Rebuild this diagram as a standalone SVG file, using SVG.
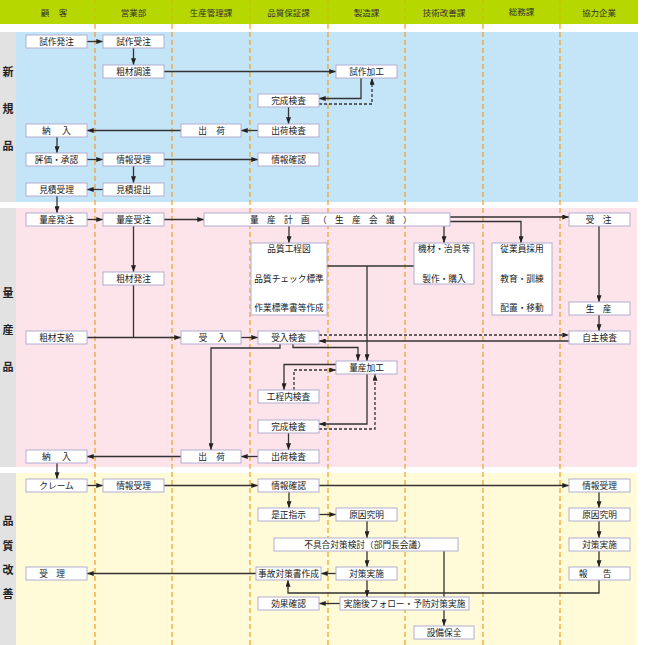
<svg xmlns="http://www.w3.org/2000/svg" width="650" height="645" viewBox="0 0 650 645">
<style>
.bx{fill:#fff;stroke:#b3aed0;stroke-width:1}
.t{font-family:"Noto Sans CJK JP","Noto Sans",sans-serif;font-size:8.7px;fill:#1a1a1a;text-anchor:middle}
.h{font-family:"Noto Sans CJK JP","Noto Sans",sans-serif;font-size:8.5px;fill:#333;text-anchor:middle}
.sl{font-family:"Noto Sans CJK JP","Noto Sans",sans-serif;font-size:11px;font-weight:bold;fill:#222;text-anchor:middle}
.c{fill:none;stroke:#333;stroke-width:1.3}
.a{marker-end:url(#ah)}
.d{stroke-dasharray:3,2}
.lane{stroke:#f2a020;stroke-width:1.2;stroke-dasharray:5,3}
.laneh{stroke:#e0a020;stroke-width:1.2;stroke-dasharray:5,3;opacity:0.35}
</style>
<defs>
<marker id="ah" viewBox="0 0 8 6" refX="8" refY="3" markerWidth="7" markerHeight="5" markerUnits="userSpaceOnUse" orient="auto"><path d="M0,0 L8,3 L0,6 z" fill="#222"/></marker>
</defs>
<g id="background">
<rect x="0" y="0" width="650" height="645" fill="#fff"/>
<rect x="0" y="0" width="638" height="24" fill="#b6d700"/>
<rect x="16" y="32" width="622" height="170" fill="#c4e4f8"/>
<rect x="0" y="32" width="16" height="170" fill="#e2e2e2"/>
<rect x="16" y="208" width="621" height="259" fill="#fde3ea"/>
<rect x="0" y="208" width="16" height="259" fill="#e2e2e2"/>
<rect x="16" y="473" width="621" height="172" fill="#fffad8"/>
<rect x="0" y="473" width="16" height="172" fill="#e2e2e2"/>
</g>
<g id="lanes">
<g class="laneh">
<line x1="95" y1="0" x2="95" y2="24"/><line x1="172" y1="0" x2="172" y2="24"/><line x1="250" y1="0" x2="250" y2="24"/><line x1="328" y1="0" x2="328" y2="24"/><line x1="405" y1="0" x2="405" y2="24"/><line x1="483" y1="0" x2="483" y2="24"/><line x1="560" y1="0" x2="560" y2="24"/>
</g>
<g class="lane">
<line x1="95" y1="24" x2="95" y2="645"/><line x1="172" y1="24" x2="172" y2="645"/><line x1="250" y1="24" x2="250" y2="645"/><line x1="328" y1="24" x2="328" y2="645"/><line x1="405" y1="24" x2="405" y2="645"/><line x1="483" y1="24" x2="483" y2="645"/><line x1="560" y1="24" x2="560" y2="645"/>
</g>
</g>
<g id="header">
<text class="h" x="58.7" y="16" letter-spacing="9.5">顧客</text>
<text class="h" x="133.5" y="16">営業部</text>
<text class="h" x="211" y="16">生産管理課</text>
<text class="h" x="288.5" y="16">品質保証課</text>
<text class="h" x="366.5" y="16">製造課</text>
<text class="h" x="444" y="16">技術改善課</text>
<text class="h" x="521.5" y="15">総務課</text>
<text class="h" x="599" y="16">協力企業</text>
</g>
<g id="section-labels">
<text class="sl" x="8" y="76">新</text>
<text class="sl" x="8" y="113">規</text>
<text class="sl" x="8" y="150">品</text>
<text class="sl" x="8" y="297">量</text>
<text class="sl" x="8" y="334">産</text>
<text class="sl" x="8" y="371">品</text>
<text class="sl" x="8" y="525">品</text>
<text class="sl" x="8" y="550">質</text>
<text class="sl" x="8" y="574">改</text>
<text class="sl" x="8" y="598">善</text>
</g>
<g id="connectors">
<path class="c a" d="M87,41.5 H103"/>
<path class="c a" d="M133.5,48 V65"/>
<path class="c a" d="M164,71.5 H336"/>
<path class="c a" d="M361,78 V98.5 H319"/>
<path class="c a d" d="M319,104 H372 V78"/>
<path class="c a" d="M288.5,107 V124"/>
<path class="c a" d="M258,130.5 H241"/>
<path class="c a" d="M181,130.5 H87"/>
<path class="c a" d="M57,137 V153"/>
<path class="c a" d="M87,159.5 H103"/>
<path class="c a" d="M164,159.5 H258"/>
<path class="c a" d="M133.5,166 V183"/>
<path class="c a" d="M103,189.5 H87"/>
<path class="c a" d="M57,196 V213"/>
<path class="c a" d="M87,219.5 H103"/>
<path class="c a" d="M164,219.5 H204"/>
<path class="c a" d="M289,226 V243"/>
<path class="c a" d="M450,217 H569"/>
<path class="c a" d="M450,221.5 H521 V243"/>
<path class="c a" d="M444,221.5 V243"/>
<path class="c a" d="M599,226 V302"/>
<path class="c a" d="M599,315 V331"/>
<path class="c a" d="M133.5,226 V272"/>
<path class="c" d="M133.5,285 V337.5"/>
<path class="c a" d="M87,337.5 H181"/>
<path class="c a" d="M241,337.5 H258"/>
<path class="c a d" d="M319,335 H569"/>
<path class="c a" d="M569,341 H319"/>
<path class="c" d="M327,266 H414"/>
<path class="c a" d="M367,266 V361"/>
<path class="c a" d="M280,344 V348 H211 V450"/>
<path class="c a" d="M293,344 V347.5 H358 V361"/>
<path class="c a" d="M336,364.5 H284 V390"/>
<path class="c a d" d="M294,390 V370 H336"/>
<path class="c a" d="M367,374 V424 H319"/>
<path class="c a d" d="M319,429 H375 V374"/>
<path class="c a" d="M288.5,433 V450"/>
<path class="c a" d="M258,456.5 H241"/>
<path class="c a" d="M181,456.5 H87"/>
<path class="c a" d="M57,463 V479"/>
<path class="c a" d="M87,485.5 H103"/>
<path class="c a" d="M164,485.5 H258"/>
<path class="c a" d="M319,485.5 H569"/>
<path class="c a" d="M289,492 V508"/>
<path class="c a" d="M319,514.5 H336"/>
<path class="c a" d="M599,492 V508"/>
<path class="c a" d="M599,521 V538"/>
<path class="c a" d="M599,551 V567"/>
<path class="c a" d="M367,521 V538"/>
<path class="c a" d="M367,551 V567"/>
<path class="c a" d="M336,573.5 H321"/>
<path class="c a" d="M256,573.5 H87"/>
<path class="c a" d="M599,580 V593 H288 V580"/>
<path class="c a" d="M367,580 V597"/>
<path class="c a" d="M340,603.5 H319"/>
<path class="c a" d="M444,551 V626"/>
</g>
<g id="n1"><rect class="bx" x="26" y="35" width="61" height="13"/><text class="t" x="56.5" y="44.7">試作発注</text></g>
<g id="n2"><rect class="bx" x="103" y="35" width="61" height="13"/><text class="t" x="133.5" y="44.7">試作受注</text></g>
<g id="n3"><rect class="bx" x="103" y="65" width="61" height="13"/><text class="t" x="133.5" y="74.7">粗材調達</text></g>
<g id="n4"><rect class="bx" x="336" y="65" width="61" height="13"/><text class="t" x="366.5" y="74.7">試作加工</text></g>
<g id="n5"><rect class="bx" x="258" y="94" width="61" height="13"/><text class="t" x="288.5" y="103.7">完成検査</text></g>
<g id="n6"><rect class="bx" x="258" y="124" width="61" height="13"/><text class="t" x="288.5" y="133.7">出荷検査</text></g>
<g id="n7"><rect class="bx" x="181" y="124" width="60" height="13"/><text class="t" x="216.2" y="133.7" letter-spacing="9.3">出荷</text></g>
<g id="n8"><rect class="bx" x="26" y="124" width="61" height="13"/><text class="t" x="62.1" y="133.7" letter-spacing="11.3">納入</text></g>
<g id="n9"><rect class="bx" x="26" y="153" width="61" height="13"/><text class="t" x="56.5" y="162.7">評価・承認</text></g>
<g id="n10"><rect class="bx" x="103" y="153" width="61" height="13"/><text class="t" x="133.5" y="162.7">情報受理</text></g>
<g id="n11"><rect class="bx" x="258" y="153" width="61" height="13"/><text class="t" x="288.5" y="162.7">情報確認</text></g>
<g id="n12"><rect class="bx" x="26" y="183" width="61" height="13"/><text class="t" x="56.5" y="192.7">見積受理</text></g>
<g id="n13"><rect class="bx" x="103" y="183" width="61" height="13"/><text class="t" x="133.5" y="192.7">見積提出</text></g>
<g id="p1"><rect class="bx" x="26" y="213" width="61" height="13"/><text class="t" x="56.5" y="222.7">量産発注</text></g>
<g id="p2"><rect class="bx" x="103" y="213" width="61" height="13"/><text class="t" x="133.5" y="222.7">量産受注</text></g>
<g id="p3"><rect class="bx" x="204" y="213" width="246" height="13"/><text class="t" x="335" y="222.7" letter-spacing="8.3">量産計画（生産会議）</text></g>
<g id="p4"><rect class="bx" x="569" y="213" width="61" height="13"/><text class="t" x="602.7" y="222.7" letter-spacing="8.3">受注</text></g>
<g id="p5"><rect class="bx" x="251" y="243" width="76" height="72"/><text class="t" x="289" y="252">品質工程図</text><text class="t" x="289" y="282">品質チェック標準</text><text class="t" x="289" y="311">作業標準書等作成</text></g>
<g id="p6"><rect class="bx" x="414" y="243" width="60" height="41"/><text class="t" x="444" y="252">機材・治具等</text><text class="t" x="444" y="282">製作・購入</text></g>
<g id="p7"><rect class="bx" x="492" y="243" width="60" height="72"/><text class="t" x="522" y="252">従業員採用</text><text class="t" x="522" y="282">教育・訓練</text><text class="t" x="522" y="311">配置・移動</text></g>
<g id="p8"><rect class="bx" x="103" y="272" width="61" height="13"/><text class="t" x="133.5" y="281.7">粗材発注</text></g>
<g id="p9"><rect class="bx" x="569" y="302" width="61" height="13"/><text class="t" x="602.7" y="311.7" letter-spacing="8.3">生産</text></g>
<g id="p10"><rect class="bx" x="26" y="331" width="61" height="13"/><text class="t" x="56.5" y="340.7">粗材支給</text></g>
<g id="p11"><rect class="bx" x="181" y="331" width="60" height="13"/><text class="t" x="217.7" y="340.7" letter-spacing="10.3">受入</text></g>
<g id="p12"><rect class="bx" x="258" y="331" width="61" height="13"/><text class="t" x="288.5" y="340.7">受入検査</text></g>
<g id="p13"><rect class="bx" x="569" y="331" width="61" height="13"/><text class="t" x="599.5" y="340.7">自主検査</text></g>
<g id="p14"><rect class="bx" x="336" y="361" width="61" height="13"/><text class="t" x="366.5" y="370.7">量産加工</text></g>
<g id="p15"><rect class="bx" x="258" y="390" width="61" height="13"/><text class="t" x="288.5" y="399.7">工程内検査</text></g>
<g id="p16"><rect class="bx" x="258" y="420" width="61" height="13"/><text class="t" x="288.5" y="429.7">完成検査</text></g>
<g id="p17"><rect class="bx" x="258" y="450" width="61" height="13"/><text class="t" x="288.5" y="459.7">出荷検査</text></g>
<g id="p18"><rect class="bx" x="181" y="450" width="60" height="13"/><text class="t" x="216.2" y="459.7" letter-spacing="9.3">出荷</text></g>
<g id="p19"><rect class="bx" x="26" y="450" width="61" height="13"/><text class="t" x="62.1" y="459.7" letter-spacing="11.3">納入</text></g>
<g id="q1"><rect class="bx" x="26" y="479" width="61" height="13"/><text class="t" x="56.5" y="488.7">クレーム</text></g>
<g id="q2"><rect class="bx" x="103" y="479" width="61" height="13"/><text class="t" x="133.5" y="488.7">情報受理</text></g>
<g id="q3"><rect class="bx" x="258" y="479" width="61" height="13"/><text class="t" x="288.5" y="488.7">情報確認</text></g>
<g id="q4"><rect class="bx" x="569" y="479" width="61" height="13"/><text class="t" x="599.5" y="488.7">情報受理</text></g>
<g id="q5"><rect class="bx" x="258" y="508" width="61" height="13"/><text class="t" x="288.5" y="517.7">是正指示</text></g>
<g id="q6"><rect class="bx" x="336" y="508" width="61" height="13"/><text class="t" x="366.5" y="517.7">原因究明</text></g>
<g id="q7"><rect class="bx" x="569" y="508" width="61" height="13"/><text class="t" x="599.5" y="517.7">原因究明</text></g>
<g id="q8"><rect class="bx" x="274" y="538" width="184" height="13"/><text class="t" x="365" y="547.7">不具合対策検討（部門長会議）</text></g>
<g id="q9"><rect class="bx" x="569" y="538" width="61" height="13"/><text class="t" x="599.5" y="547.7">対策実施</text></g>
<g id="q10"><rect class="bx" x="26" y="567" width="61" height="13"/><text class="t" x="56.2" y="576.7" letter-spacing="8.3">受理</text></g>
<g id="q11"><rect class="bx" x="256" y="567" width="65" height="13"/><text class="t" x="288.5" y="576.7">事故対策書作成</text></g>
<g id="q12"><rect class="bx" x="336" y="567" width="61" height="13"/><text class="t" x="366.5" y="576.7">対策実施</text></g>
<g id="q13"><rect class="bx" x="569" y="567" width="61" height="13"/><text class="t" x="602.7" y="576.7" letter-spacing="15.3">報告</text></g>
<g id="q14"><rect class="bx" x="258" y="597" width="61" height="13"/><text class="t" x="288.5" y="606.7">効果確認</text></g>
<g id="q15"><rect class="bx" x="340" y="597" width="129" height="13"/><text class="t" x="404.5" y="606.7">実施後フォロー・予防対策実施</text></g>
<g id="q16"><rect class="bx" x="414" y="626" width="60" height="13"/><text class="t" x="444" y="635.7">設備保全</text></g>
</svg>
